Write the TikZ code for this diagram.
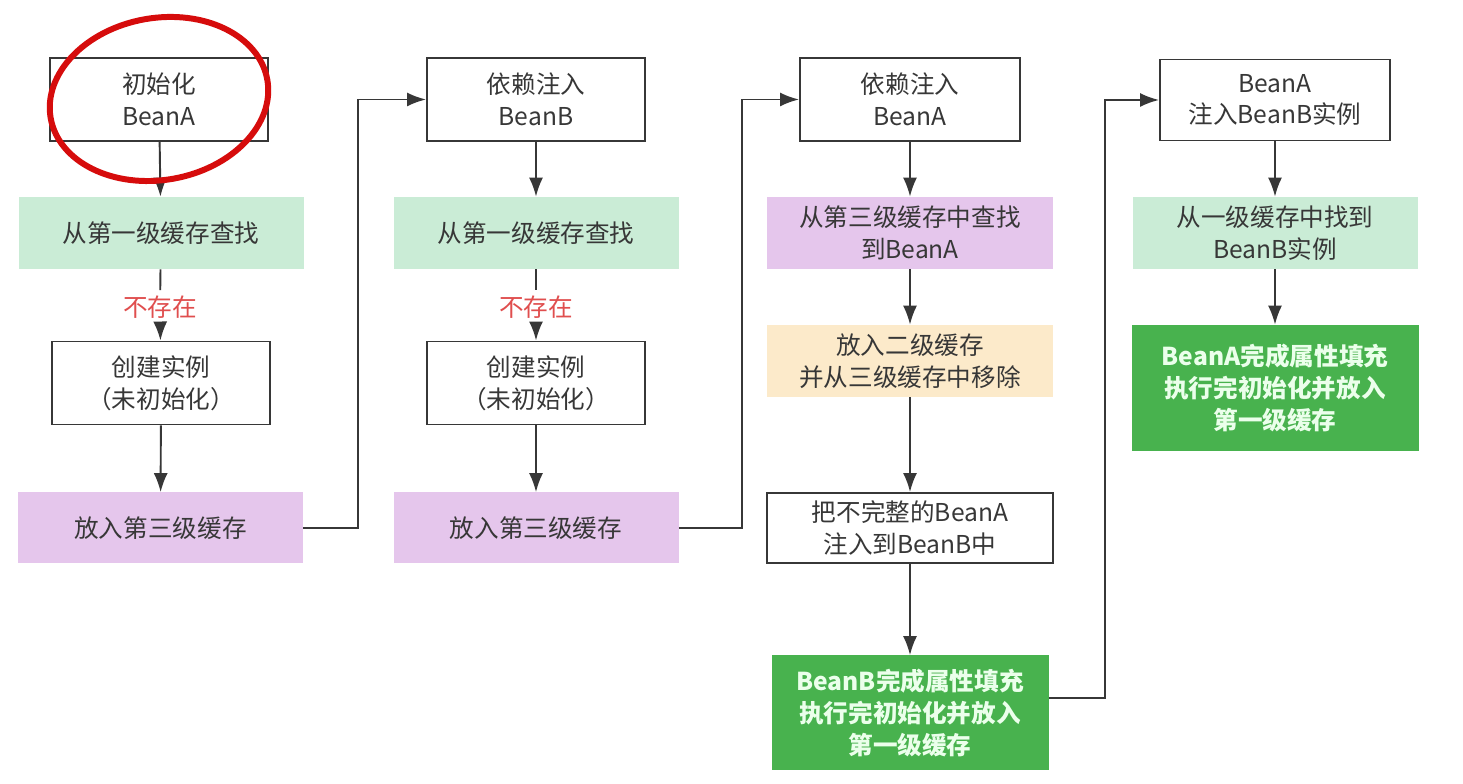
\documentclass[tikz,border=0pt]{standalone}
\usepackage{fontspec}
\setmainfont{Noto Sans CJK SC}
\usetikzlibrary{arrows.meta}
\definecolor{findgreen}{RGB}{202,236,214}
\definecolor{cachepurple}{RGB}{229,198,236}
\definecolor{moveyellow}{RGB}{252,234,202}
\definecolor{donegreen}{RGB}{72,178,78}
\definecolor{linegray}{RGB}{55,55,55}
\definecolor{missred}{RGB}{224,78,78}
\definecolor{circlered}{RGB}{214,12,12}

\begin{document}
\begin{tikzpicture}[every node/.style={align=center, inner sep=0pt, text=linegray, font=\fontsize{14}{18}\selectfont},
    stepbox/.style={draw=linegray, line width=1.1pt, fill=white, minimum width=4.36cm, minimum height=1.66cm},
    findbox/.style={fill=findgreen, minimum width=5.7cm, minimum height=1.44cm},
    cachebox/.style={fill=cachepurple, minimum width=5.7cm, minimum height=1.42cm},
    movebox/.style={fill=moveyellow, minimum width=5.72cm, minimum height=1.44cm},
    donebox/.style={fill=donegreen, text=green!8, font=\fontsize{14}{18}\selectfont\bfseries, minimum width=5.54cm, minimum height=2.3cm},
    arr/.style={draw=linegray, line width=1.1pt, -{Latex[length=3.8mm,width=2.8mm]}}]
        \fill[white] (0,0) rectangle (29.26,15.68);
        % first column
        \node[stepbox] (initA) at (3.18,13.69) {初始化\\BeanA};
        \node[findbox] (findA) at (3.22,11.02) {从第一级缓存查找};
        \node[text=missred, inner sep=3pt] (missA) at (3.2,9.54) {不存在};
        \node[stepbox] (newA) at (3.22,8.02) {创建实例\\（未初始化）};
        \node[cachebox] (cacheA) at (3.21,5.12) {放入第三级缓存};
        % second column
        \node[stepbox] (injectB) at (10.72,13.69) {依赖注入\\BeanB};
        \node[findbox] (findB) at (10.72,11.02) {从第一级缓存查找};
        \node[text=missred, inner sep=3pt] (missB) at (10.72,9.54) {不存在};
        \node[stepbox] (newB) at (10.72,8.02) {创建实例\\（未初始化）};
        \node[cachebox] (cacheB) at (10.72,5.12) {放入第三级缓存};
        % third column
        \node[stepbox, minimum width=4.4cm] (injectA) at (18.2,13.69) {依赖注入\\BeanA};
        \node[cachebox, minimum width=5.72cm, minimum height=1.44cm] (getA) at (18.2,11.02) {从第三级缓存中查找\\到BeanA};
        \node[movebox] (moveA) at (18.2,8.46) {放入二级缓存\\并从三级缓存中移除};
        \node[stepbox, minimum width=5.72cm, minimum height=1.4cm] (putA) at (18.2,5.12) {把不完整的BeanA\\注入到BeanB中};
        \node[donebox] (doneB) at (18.2,1.42) {BeanB完成属性填充\\执行完初始化并放入\\第一级缓存};
        % fourth column
        \node[stepbox, minimum width=4.6cm, minimum height=1.62cm] (giveA) at (25.5,13.68) {BeanA\\注入BeanB实例};
        \node[findbox] (getB) at (25.5,11.02) {从一级缓存中找到\\BeanB实例};
        \node[donebox, minimum width=5.74cm, minimum height=2.52cm] (doneA) at (25.5,7.92) {BeanA完成属性填充\\执行完初始化并放入\\第一级缓存};
        \foreach \x/\y in {initA/findA,missA/newA,newA/cacheA,injectB/findB,missB/newB,newB/cacheB,injectA/getA,getA/moveA,moveA/putA,putA/doneB,giveA/getB,getB/doneA}
          \draw[arr] (\x) -- (\y);
        \draw[draw=linegray, line width=1.1pt] (findA) -- (missA);
        \draw[draw=linegray, line width=1.1pt] (findB) -- (missB);
        \draw[arr] (cacheA.east) -- ++(1.1,0) |- (injectB.west);
        \draw[arr] (cacheB.east) -- ++(1.26,0) |- (injectA.west);
        \draw[arr] ([yshift=0.3cm]doneB.east) -- ++(1.12,0) |- (giveA.west);
        % red mark round the first box
        \draw[circlered, line width=3.4pt, rotate around={10:(3.18,13.7)}] (3.18,13.7) ellipse (2.2 and 1.62);
      \end{tikzpicture}
\end{document}
